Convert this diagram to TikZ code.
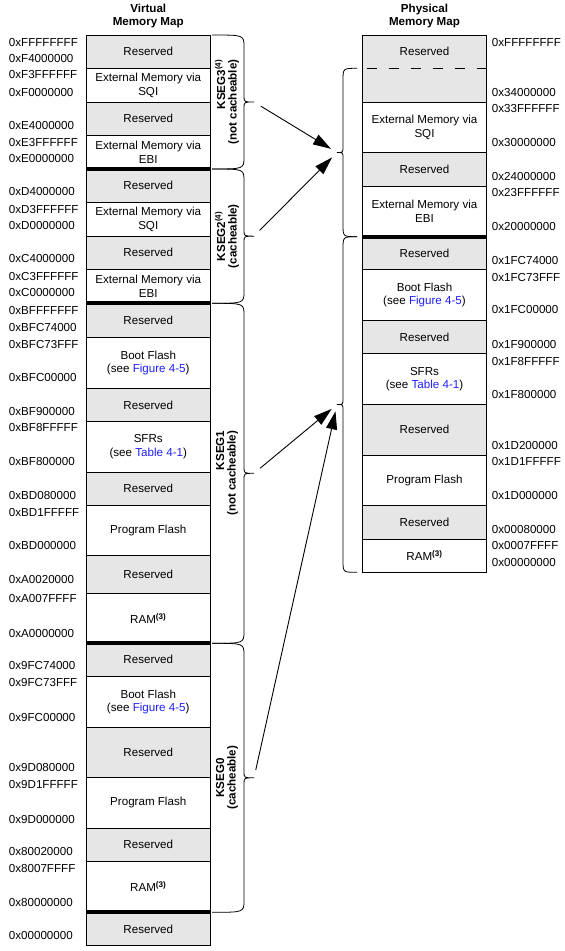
\documentclass[tikz,border=0pt]{standalone}
\usepackage{fontspec}
\setmainfont{Liberation Sans}
\usetikzlibrary{positioning,arrows.meta,calc}
\definecolor{ResGray}{HTML}{E6E6E6}
\definecolor{LinkBlue}{HTML}{1F1FFF}
\newcommand{\mapfont}{\fontsize{11.6}{13.3}\selectfont}
\newcommand{\headfont}{\fontsize{11.6}{12.7}\selectfont\bfseries}
\newcommand{\segfont}{\fontsize{11.6}{11.5}\selectfont\bfseries}
\newcommand{\refsup}[1]{\textsuperscript{\bfseries(#1)}}
\newcommand{\seelink}[1]{(see \textcolor{LinkBlue}{#1})}
\tikzset{
    cell/.style = {rectangle, minimum width=124.5pt, inner sep=0pt,
        outer sep=0pt, align=center, font=\mapfont},
    resblock/.style = {cell, draw, fill=ResGray},
    memblock/.style = {cell, draw, fill=white},
    openblock/.style = {cell, fill=ResGray},
    addr/.style = {anchor=west, inner sep=0pt, font=\mapfont},
    head/.style = {align=center, inner sep=0pt, font=\headfont},
    seglabel/.style = {rotate=90, inner sep=0pt, font=\segfont},
    segline/.style = {line width=4pt},
    maparrow/.style = {draw, -{Triangle[length=18pt,width=11pt]},
        shorten <=8pt, shorten >=7pt},
    bracestyle/.style = {draw, line width=0.8pt}
}
% #1 x of ends, #2 x of stem, #3 x of tip, #4 top y, #5 bottom y, #6 tip name
\newcommand{\memBrace}[6]{%
    \pgfmathsetmacro\bmid{(#4+#5)/2}
    \draw[bracestyle] (#1,#4) .. controls (#2,#4) .. (#2,#4+12)
        -- (#2,\bmid-6) .. controls (#2,\bmid) .. (#3,\bmid)
        .. controls (#2,\bmid) .. (#2,\bmid+6)
        -- (#2,#5-12) .. controls (#2,#5) .. (#1,#5);
    \coordinate (#6) at (#3,\bmid);
}

\begin{document}
\begin{tikzpicture}[x=1pt, y=-1pt, line width=0.9pt]
    \useasboundingbox (0,0) rectangle (565,951);
    % virtual map
    \foreach \ya/\yb/\kind/\txt [count=\i] in {
        35/68.5/resblock/Reserved,
        68.5/102/memblock/{External Memory via\\SQI},
        102/135.5/resblock/Reserved,
        135.5/169/memblock/{External Memory via\\EBI},
        169/202.5/resblock/Reserved,
        202.5/236/memblock/{External Memory via\\SQI},
        236/269.5/resblock/Reserved,
        269.5/303.3/memblock/{External Memory via\\EBI},
        303.3/337.3/resblock/Reserved,
        337.3/388.7/memblock/{Boot Flash\\\seelink{Figure 4-5}},
        388.7/421/resblock/Reserved,
        421/472.3/memblock/{SFRs\\\seelink{Table 4-1}},
        472.3/505/resblock/Reserved,
        505/555.3/memblock/Program Flash,
        555.3/593.3/resblock/Reserved,
        593.3/643.3/memblock/{RAM\refsup{3}},
        643.3/676.3/resblock/Reserved,
        676.3/727.3/memblock/{Boot Flash\\\seelink{Figure 4-5}},
        727.3/777.3/resblock/Reserved,
        777.3/828.3/memblock/Program Flash,
        828.3/861.3/resblock/Reserved,
        861.3/912.3/memblock/{RAM\refsup{3}},
        912.3/945.7/resblock/Reserved}{
        \node[\kind, minimum height={(\yb-\ya)*1pt}] (v\i) at (148.25,{(\ya+\yb)/2}) {\txt};
    }
    \foreach \n in {4,8,16,22}{
        \draw[segline] (v\n.south west) -- (v\n.south east);
    }
    \node[head, above=6.7pt of v1] (vhead) {Virtual\\Memory Map};
    \foreach \y/\a [count=\i] in {42.3/FFFFFFFF, 59/F4000000, 75/F3FFFFFF, 92.3/F0000000,
        125.7/E4000000, 142.3/E3FFFFFF, 159/E0000000, 192/D4000000, 209.5/D3FFFFFF,
        226/D0000000, 259/C4000000, 276.5/C3FFFFFF, 293/C0000000, 310.7/BFFFFFFF,
        327.3/BFC74000, 344.3/BFC73FFF, 377.7/BFC00000, 411/BF900000, 427.7/BF8FFFFF,
        461.7/BF800000, 495.7/BD080000, 512.3/BD1FFFFF, 545.7/BD000000, 579.7/A0020000,
        598/A007FFFF, 633.3/A0000000, 665.7/9FC74000, 682.3/9FC73FFF, 717.7/9FC00000,
        767.7/9D080000, 784.3/9D1FFFFF, 819/9D000000, 851/80020000, 868.3/8007FFFF,
        902.3/80000000, 935/00000000}{
        \node[addr] (va\i) at (8.5,\y) {0x\a};
    }
    % physical map
    \foreach \ya/\yb/\kind/\txt [count=\i] in {
        35/68.3/openblock/Reserved,
        68.3/102.3/openblock/{},
        102.3/152.3/memblock/{External Memory via\\SQI},
        152.3/186/resblock/Reserved,
        186/236.7/memblock/{External Memory via\\EBI},
        236.7/269.3/resblock/Reserved,
        269.3/320.3/memblock/{Boot Flash\\\seelink{Figure 4-5}},
        320.3/353.7/resblock/Reserved,
        353.7/404.3/memblock/{SFRs\\\seelink{Table 4-1}},
        404.3/455.3/resblock/Reserved,
        455.3/505.3/memblock/Program Flash,
        505.3/539.3/resblock/Reserved,
        539.3/572.3/memblock/{RAM\refsup{3}}}{
        \node[\kind, minimum height={(\yb-\ya)*1pt}] (p\i) at (424.5,{(\ya+\yb)/2}) {\txt};
    }
    \draw (p1.south west) |- (p1.north east) -- (p1.south east);
    \draw (p2.north west) -- (p2.south west) (p2.north east) -- (p2.south east);
    \draw[dash pattern=on 10pt off 12pt, dash phase=17.6pt] (p2.north west) -- (p2.north east);
    \draw[segline] (p5.south west) -- (p5.south east);
    \node[head, above=6.7pt of p1] (phead) {Physical\\Memory Map};
    \foreach \y/\a [count=\i] in {42.3/FFFFFFFF, 92.3/34000000, 109/33FFFFFF, 142.3/30000000,
        176.7/24000000, 192.7/23FFFFFF, 226.7/20000000, 260.7/1FC74000, 277.3/1FC73FFF,
        310/1FC00000, 344/1F900000, 361.3/1F8FFFFF, 394.7/1F800000, 445.3/1D200000,
        461.3/1D1FFFFF, 495.7/1D000000, 529/00080000, 545/0007FFFF, 562.3/00000000}{
        \node[addr] (pa\i) at (491.5,\y) {0x\a};
    }
    % segment braces and labels
    \memBrace{212}{244}{254}{35}{169}{kseg3}
    \memBrace{212}{244}{254}{169}{303.3}{kseg2}
    \memBrace{212}{244}{254}{303.3}{643.3}{kseg1}
    \memBrace{212}{244}{254}{643.3}{912.3}{kseg0}
    \memBrace{357}{343}{337}{68.3}{236.7}{physhi}
    \memBrace{357}{343}{337}{236.7}{572.3}{physlo}
    \node[seglabel, align=right] (k3label) at (227,102) {KSEG3\refsup{4}\\(not cacheable)};
    \node[seglabel, align=center] (k2label) at (227,236.2) {KSEG2\refsup{4}\\(cacheable)};
    \node[seglabel, align=right] (k1label) at (227,473.3) {KSEG1\\(not cacheable)};
    \node[seglabel, align=center] (k0label) at (227,777.8) {KSEG0\\(cacheable)};
    \draw[maparrow] (kseg3) -- (physhi);
    \draw[maparrow] (kseg2) -- (physhi);
    \draw[maparrow] (kseg1) -- (physlo);
    \draw[maparrow] (kseg0) -- (physlo);
\end{tikzpicture}
\end{document}
